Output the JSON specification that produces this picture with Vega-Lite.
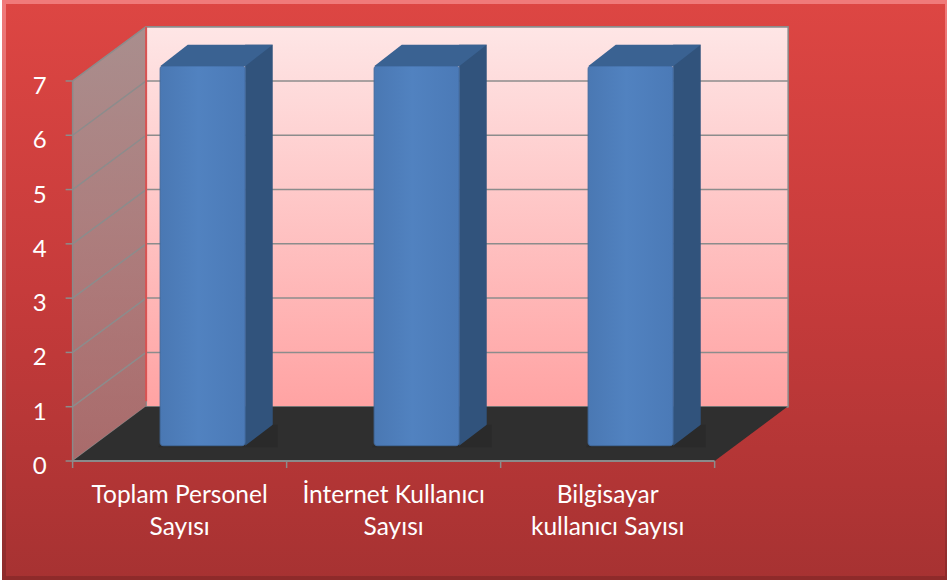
{
  "$schema": "https://vega.github.io/schema/vega-lite/v6.json",
  "width": 943,
  "height": 576,
  "autosize": {"type": "none"},
  "padding": {"left": 4, "top": 2, "right": 0, "bottom": 5},
  "background": "#ffffff",
  "config": {
    "view": {
      "fill": {"gradient": "linear", "x1": 0, "y1": 0, "x2": 0, "y2": 1, "stops": [{"offset": 0, "color": "#dd4643"}, {"offset": 0.5, "color": "#c63b3b"}, {"offset": 1, "color": "#a73232"}]},
      "stroke": {"gradient": "linear", "x1": 0, "y1": 0, "x2": 0, "y2": 1, "stops": [{"offset": 0, "color": "#f07a7a"}, {"offset": 1, "color": "#8e2a2a"}]},
      "strokeWidth": 4
    },
    "text": {"font": "Lato"}
  },
  "datasets": {
    "sayilar": [
      {"kategori": "Toplam Personel Sayısı", "etiket": ["Toplam Personel", "Sayısı"], "sira": 1, "deger": 7},
      {"kategori": "İnternet Kullanıcı Sayısı", "etiket": ["İnternet Kullanıcı", "Sayısı"], "sira": 2, "deger": 7},
      {"kategori": "Bilgisayar kullanıcı Sayısı", "etiket": ["Bilgisayar", "kullanıcı Sayısı"], "sira": 3, "deger": 7}
    ],
    "izgara": [{"v": 0}, {"v": 1}, {"v": 2}, {"v": 3}, {"v": 4}, {"v": 5}, {"v": 6}, {"v": 7}],
    "sinirlar": [{"s": 0.5}, {"s": 1.5}, {"s": 2.5}, {"s": 3.5}],
    "solDuvar": [{"x": 0.5, "alt": 0, "ust": 7}, {"x": 0.8398, "alt": 1, "ust": 8}],
    "zemin": [{"x": 0.5, "alt": 0, "ust": 0}, {"x": 0.8398, "alt": 0, "ust": 1}, {"x": 3.5, "alt": 0, "ust": 1}, {"x": 3.8398, "alt": 1, "ust": 1}]
  },
  "layer": [
    {
      "data": {"values": [{}]},
      "mark": {"type": "rect", "fill": {"gradient": "linear", "x1": 0, "y1": 0, "x2": 0, "y2": 1, "stops": [{"offset": 0, "color": "#fee6e6"}, {"offset": 1, "color": "#ffa3a3"}]}, "stroke": "#8a8a8a", "strokeWidth": 1.5, "xOffset": 73.5, "x2Offset": 73.5, "yOffset": -54.3, "y2Offset": -54.3},
      "encoding": {
        "x": {"datum": 0.5, "type": "quantitative", "scale": {"domain": [0.2027, 4.5624], "nice": false, "zero": false}, "axis": null},
        "x2": {"datum": 3.5},
        "y": {"datum": 0, "type": "quantitative", "scale": {"domain": [-2.1551, 8.4546], "nice": false, "zero": false}, "axis": null},
        "y2": {"datum": 7}
      }
    },
    {
      "data": {"name": "izgara"},
      "mark": {"type": "rule", "color": "#8c8c8c", "strokeWidth": 1.5, "xOffset": 73.5, "x2Offset": 73.5, "yOffset": -54.3, "y2Offset": -54.3},
      "encoding": {
        "x": {"datum": 0.5, "type": "quantitative", "scale": {"domain": [0.2027, 4.5624], "nice": false, "zero": false}, "axis": null},
        "x2": {"datum": 3.5},
        "y": {"field": "v", "type": "quantitative", "scale": {"domain": [-2.1551, 8.4546], "nice": false, "zero": false}, "axis": null},
        "y2": {"field": "v"}
      }
    },
    {
      "data": {"name": "solDuvar"},
      "mark": {"type": "area", "fill": {"gradient": "linear", "x1": 0, "y1": 0, "x2": 0, "y2": 1, "stops": [{"offset": 0, "color": "rgba(158,158,158,0.82)"}, {"offset": 1, "color": "rgba(160,150,150,0.55)"}]}},
      "encoding": {
        "x": {"field": "x", "type": "quantitative", "scale": {"domain": [0.2027, 4.5624], "nice": false, "zero": false}, "axis": null},
        "y": {"field": "alt", "type": "quantitative", "scale": {"domain": [-2.1551, 8.4546], "nice": false, "zero": false}, "axis": null},
        "y2": {"field": "ust"}
      }
    },
    {
      "data": {"name": "izgara"},
      "mark": {"type": "rule", "color": "#8c8c8c", "strokeWidth": 1.5, "x2Offset": 73.5, "y2Offset": -54.3},
      "encoding": {
        "x": {"datum": 0.5, "type": "quantitative", "scale": {"domain": [0.2027, 4.5624], "nice": false, "zero": false}, "axis": null},
        "x2": {"datum": 0.5},
        "y": {"field": "v", "type": "quantitative", "scale": {"domain": [-2.1551, 8.4546], "nice": false, "zero": false}, "axis": null},
        "y2": {"field": "v"}
      }
    },
    {
      "data": {"values": [{}]},
      "mark": {"type": "rule", "color": "#d95252", "strokeWidth": 2, "xOffset": 73.5, "x2Offset": 73.5, "yOffset": -54.3, "y2Offset": -54.3},
      "encoding": {
        "x": {"datum": 0.5, "type": "quantitative", "scale": {"domain": [0.2027, 4.5624], "nice": false, "zero": false}, "axis": null},
        "y": {"datum": 0.1, "type": "quantitative", "scale": {"domain": [-2.1551, 8.4546], "nice": false, "zero": false}, "axis": null},
        "y2": {"datum": 7}
      }
    },
    {
      "data": {"name": "zemin"},
      "mark": {"type": "area", "color": "#2f2f2f"},
      "encoding": {
        "x": {"field": "x", "type": "quantitative", "scale": {"domain": [0.2027, 4.5624], "nice": false, "zero": false}, "axis": null},
        "y": {"field": "alt", "type": "quantitative", "scale": {"domain": [-2.1551, 8.4546], "nice": false, "zero": false}, "axis": null},
        "y2": {"field": "ust"}
      }
    },
    {
      "data": {"values": [{}]},
      "mark": {"type": "rule", "color": "#8a8a8a", "strokeWidth": 2},
      "encoding": {
        "x": {"datum": 0.5, "type": "quantitative", "scale": {"domain": [0.2027, 4.5624], "nice": false, "zero": false}, "axis": null},
        "x2": {"datum": 3.5},
        "y": {"datum": 0, "type": "quantitative", "scale": {"domain": [-2.1551, 8.4546], "nice": false, "zero": false}, "axis": null}
      }
    },
    {
      "data": {"values": [{}]},
      "mark": {"type": "rule", "color": "#8a8a8a", "strokeWidth": 1.5},
      "encoding": {
        "x": {"datum": 0.5, "type": "quantitative", "scale": {"domain": [0.2027, 4.5624], "nice": false, "zero": false}, "axis": null},
        "y": {"datum": 0, "type": "quantitative", "scale": {"domain": [-2.1551, 8.4546], "nice": false, "zero": false}, "axis": null},
        "y2": {"datum": 7}
      }
    },
    {
      "data": {"name": "izgara"},
      "mark": {"type": "rule", "color": "#8c8c8c", "strokeWidth": 1.5, "xOffset": -7},
      "encoding": {
        "x": {"datum": 0.5, "type": "quantitative", "scale": {"domain": [0.2027, 4.5624], "nice": false, "zero": false}, "axis": null},
        "x2": {"datum": 0.5},
        "y": {"field": "v", "type": "quantitative", "scale": {"domain": [-2.1551, 8.4546], "nice": false, "zero": false}, "axis": null},
        "y2": {"field": "v"}
      }
    },
    {
      "data": {"name": "izgara"},
      "mark": {"type": "text", "color": "#ffffff", "font": "Lato", "fontSize": 24, "align": "right", "baseline": "alphabetic", "xOffset": -26, "yOffset": 13},
      "encoding": {
        "x": {"datum": 0.5, "type": "quantitative", "scale": {"domain": [0.2027, 4.5624], "nice": false, "zero": false}, "axis": null},
        "y": {"field": "v", "type": "quantitative", "scale": {"domain": [-2.1551, 8.4546], "nice": false, "zero": false}, "axis": null},
        "text": {"field": "v", "type": "quantitative", "format": "d"}
      }
    },
    {
      "data": {"name": "sinirlar"},
      "mark": {"type": "rule", "color": "#8c8c8c", "strokeWidth": 1.5, "y2Offset": 7},
      "encoding": {
        "x": {"field": "s", "type": "quantitative", "scale": {"domain": [0.2027, 4.5624], "nice": false, "zero": false}, "axis": null},
        "y": {"datum": 0, "type": "quantitative", "scale": {"domain": [-2.1551, 8.4546], "nice": false, "zero": false}, "axis": null},
        "y2": {"datum": 0}
      }
    },
    {
      "data": {"name": "sayilar"},
      "mark": {"type": "bar", "width": 27.6, "color": "#31537c", "xOffset": 79.3, "yOffset": -36.3, "y2Offset": -15.3},
      "encoding": {
        "x": {"field": "sira", "type": "quantitative", "scale": {"domain": [0.2027, 4.5624], "nice": false, "zero": false}, "axis": null},
        "y": {"field": "deger", "type": "quantitative", "scale": {"domain": [-2.1551, 8.4546], "nice": false, "zero": false}, "axis": null},
        "y2": {"datum": 0}
      }
    },
    {
      "data": {"name": "sayilar"},
      "mark": {"type": "point", "shape": "M42.5,0L70.1,-21L75,-21L75,1.5L-44,1.5L-44,0Z", "size": 4, "filled": true, "opacity": 1, "strokeWidth": 0, "color": "#2a2a2a", "xOffset": 23, "yOffset": -15.3},
      "encoding": {
        "x": {"field": "sira", "type": "quantitative", "scale": {"domain": [0.2027, 4.5624], "nice": false, "zero": false}, "axis": null},
        "y": {"datum": 0, "type": "quantitative", "scale": {"domain": [-2.1551, 8.4546], "nice": false, "zero": false}, "axis": null}
      }
    },
    {
      "data": {"name": "sayilar"},
      "mark": {"type": "bar", "width": 85, "cornerRadius": 3, "xOffset": 23, "yOffset": -15.3, "y2Offset": -15.3, "fill": {"gradient": "linear", "x1": 0, "y1": 0, "x2": 1, "y2": 0, "stops": [{"offset": 0, "color": "#4a78b3"}, {"offset": 0.45, "color": "#5182c0"}, {"offset": 1, "color": "#4b7ab7"}]}, "stroke": "#41699c", "strokeWidth": 1},
      "encoding": {
        "x": {"field": "sira", "type": "quantitative", "scale": {"domain": [0.2027, 4.5624], "nice": false, "zero": false}, "axis": null},
        "y": {"field": "deger", "type": "quantitative", "scale": {"domain": [-2.1551, 8.4546], "nice": false, "zero": false}, "axis": null},
        "y2": {"datum": 0}
      }
    },
    {
      "data": {"name": "sayilar"},
      "mark": {"type": "point", "shape": "M-42.5,0.5L42.5,0.5L70.1,-21L-14.9,-21Z", "size": 4, "filled": true, "opacity": 1, "strokeWidth": 0, "color": "#3a6292", "xOffset": 23, "yOffset": -15.3},
      "encoding": {
        "x": {"field": "sira", "type": "quantitative", "scale": {"domain": [0.2027, 4.5624], "nice": false, "zero": false}, "axis": null},
        "y": {"field": "deger", "type": "quantitative", "scale": {"domain": [-2.1551, 8.4546], "nice": false, "zero": false}, "axis": null}
      }
    },
    {
      "data": {"name": "sayilar"},
      "mark": {"type": "text", "color": "#ffffff", "font": "Lato", "fontSize": 24.5, "align": "center", "baseline": "alphabetic", "lineHeight": 32},
      "encoding": {
        "x": {"field": "sira", "type": "quantitative", "scale": {"domain": [0.2027, 4.5624], "nice": false, "zero": false}, "axis": null},
        "y": {"datum": -0.779, "type": "quantitative", "scale": {"domain": [-2.1551, 8.4546], "nice": false, "zero": false}, "axis": null},
        "text": {"field": "etiket", "type": "nominal"}
      }
    }
  ]
}
